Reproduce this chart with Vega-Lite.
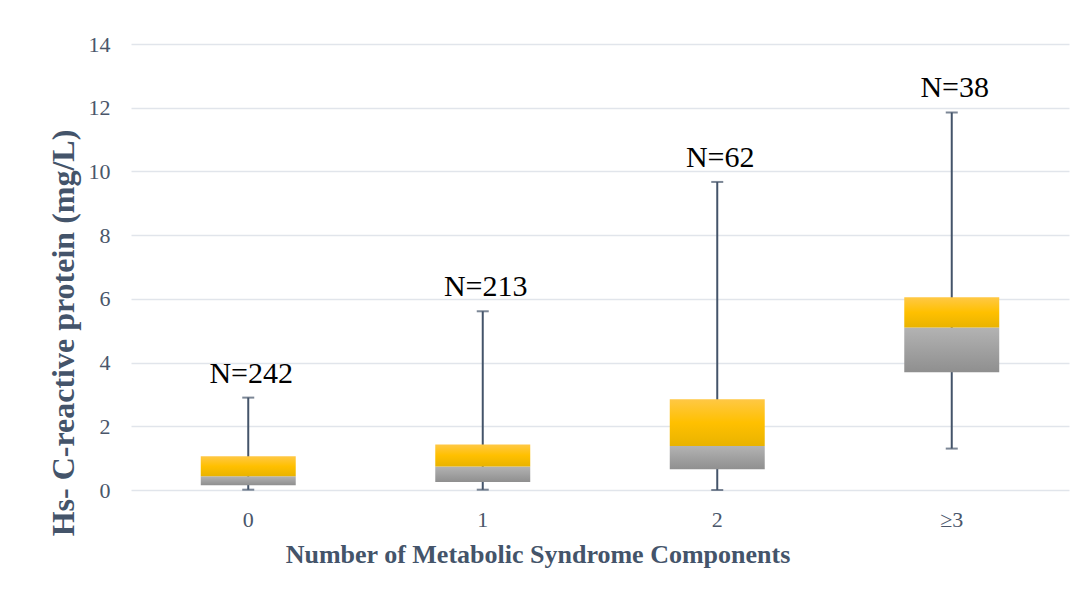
{
  "$schema": "https://vega.github.io/schema/vega-lite/v6.json",
  "autosize": {"type": "none"},
  "width": 938,
  "height": 446,
  "padding": {"left": 131, "top": 44, "right": 17, "bottom": 112},
  "background": "#ffffff",
  "config": {
    "view": {"stroke": null},
    "font": "Liberation Serif"
  },
  "data": {
    "values": [
      {"group": "0", "min": 0.01, "q1": 0.15, "median": 0.43, "q3": 1.06, "max": 2.90, "label": "N=242"},
      {"group": "1", "min": 0.01, "q1": 0.25, "median": 0.74, "q3": 1.43, "max": 5.61, "label": "N=213"},
      {"group": "2", "min": 0.0, "q1": 0.65, "median": 1.38, "q3": 2.85, "max": 9.67, "label": "N=62"},
      {"group": "≥3", "min": 1.30, "q1": 3.70, "median": 5.10, "q3": 6.05, "max": 11.85, "label": "N=38"}
    ]
  },
  "encoding": {
    "x": {
      "field": "group",
      "type": "nominal",
      "sort": ["0", "1", "2", "≥3"],
      "scale": {"type": "band", "domain": ["0", "1", "2", "≥3"], "paddingInner": 0, "paddingOuter": 0},
      "axis": {
        "title": "Number of Metabolic Syndrome Components",
        "titleFont": "Liberation Serif",
        "titleFontSize": 26,
        "titleFontWeight": "bold",
        "titleColor": "#44546A",
        "titleX": 406.5,
        "titleY": 72,
        "titleAlign": "center",
        "titleBaseline": "alphabetic",
        "labelFont": "Liberation Serif",
        "labelFontSize": 22,
        "labelColor": "#4A566A",
        "labelAngle": 0,
        "labelPadding": 19,
        "ticks": false,
        "domain": false,
        "grid": false
      }
    }
  },
  "layer": [
    {
      "mark": {"type": "rule", "color": "#44546A", "strokeWidth": 2},
      "encoding": {
        "y": {
          "field": "min",
          "type": "quantitative",
          "scale": {"domain": [0, 14], "nice": false},
          "axis": {
            "title": "Hs- C-reactive protein (mg/L)",
            "titleFont": "Liberation Serif",
            "titleFontSize": 32,
            "titleFontWeight": "bold",
            "titleColor": "#44546A",
            "titleAngle": -90,
            "titleX": -58,
            "titleY": 288.5,
            "titleAlign": "center",
            "titleBaseline": "alphabetic",
            "values": [0, 2, 4, 6, 8, 10, 12, 14],
            "labelFont": "Liberation Serif",
            "labelFontSize": 22,
            "labelColor": "#4A566A",
            "labelPadding": 21,
            "ticks": false,
            "domain": false,
            "grid": true,
            "gridColor": "#E1E5EB",
            "gridWidth": 1.5
          }
        },
        "y2": {"field": "max"}
      }
    },
    {
      "mark": {"type": "tick", "color": "#44546A", "thickness": 2, "size": 12, "orient": "horizontal"},
      "encoding": {"y": {"field": "min", "type": "quantitative"}}
    },
    {
      "mark": {"type": "tick", "color": "#44546A", "thickness": 2, "size": 12, "orient": "horizontal"},
      "encoding": {"y": {"field": "max", "type": "quantitative"}}
    },
    {
      "mark": {
        "type": "bar",
        "width": {"band": 0.405},
        "color": {
          "gradient": "linear",
          "x1": 0, "y1": 0, "x2": 0, "y2": 1,
          "stops": [
            {"offset": 0, "color": "#B3B3B3"},
            {"offset": 1, "color": "#8F8F8F"}
          ]
        }
      },
      "encoding": {
        "y": {"field": "q1", "type": "quantitative"},
        "y2": {"field": "median"}
      }
    },
    {
      "mark": {
        "type": "bar",
        "width": {"band": 0.405},
        "color": {
          "gradient": "linear",
          "x1": 0, "y1": 0, "x2": 0, "y2": 1,
          "stops": [
            {"offset": 0, "color": "#FFC845"},
            {"offset": 0.5, "color": "#FFC000"},
            {"offset": 1, "color": "#E9B300"}
          ]
        }
      },
      "encoding": {
        "y": {"field": "median", "type": "quantitative"},
        "y2": {"field": "q3"}
      }
    },
    {
      "mark": {"type": "text", "font": "Liberation Serif", "fontSize": 30, "color": "#000000", "baseline": "alphabetic", "align": "center", "dx": 3, "dy": -15},
      "encoding": {
        "y": {"field": "max", "type": "quantitative"},
        "text": {"field": "label"}
      }
    }
  ]
}
